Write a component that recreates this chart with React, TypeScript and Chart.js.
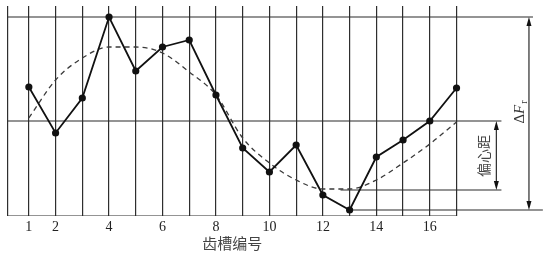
import React, { useEffect, useRef } from "react";
import { Chart, registerables } from "chart.js";

Chart.register(...registerables);

// ---- data ----
const teeth = [1, 2, 3, 4, 5, 6, 7, 8, 9, 10, 11, 12, 13, 14, 15, 16, 17];
const measured = [129, 83, 118, 199, 145, 169, 176, 121, 68, 44, 71, 21, 6, 59, 76, 95, 128];
const eccentricCurve = [98, 136, 158, 169, 169, 163, 144, 121, 78, 53, 36, 27, 27, 36, 53, 72, 94];
const tickLabels = ["1", "2", "", "4", "", "6", "", "8", "", "10", "", "12", "", "14", "", "16", ""];
const xTitle = "齿槽编号";
const labelRunout = ["Δ", "F", "r"];
const labelEccentric = "偏心距";

// frame / reference levels (in chart units)
const X_MIN = 0.22;
const X_MAX = 20.31;
const Y_MIN = 0;
const Y_MAX = 210;
const levelTop = 199;
const levelMid = 95;
const levelEccMin = 26;
const levelMeasMin = 6;

export default function App() {
  const ref = useRef<HTMLCanvasElement | null>(null);

  useEffect(() => {
    document.body.style.margin = "0";
    const canvas = ref.current;
    if (!canvas) return;

    const line = (pts: { x: number; y: number }[]) => ({
      type: "scatter" as const,
      data: pts,
      showLine: true,
      borderColor: "#2a2a2a",
      borderWidth: 1.2,
      pointRadius: 0,
      order: 3,
    });

    const annot = {
      id: "annot",
      afterDatasetsDraw(chart: any) {
        const ctx = chart.ctx as CanvasRenderingContext2D;
        const xs = chart.scales.x;
        const ys = chart.scales.y;
        const px = (v: number) => xs.getPixelForValue(v);
        const py = (v: number) => ys.getPixelForValue(v);

        const arrow = (xv: number, y1: number, y2: number) => {
          const x = px(xv);
          const a = py(y1);
          const b = py(y2);
          ctx.save();
          ctx.strokeStyle = "#2a2a2a";
          ctx.fillStyle = "#111";
          ctx.lineWidth = 1.2;
          ctx.beginPath();
          ctx.moveTo(x, a + 4);
          ctx.lineTo(x, b - 4);
          ctx.stroke();
          ctx.beginPath();
          ctx.moveTo(x, a);
          ctx.lineTo(x - 2.5, a + 9);
          ctx.lineTo(x + 2.5, a + 9);
          ctx.closePath();
          ctx.fill();
          ctx.beginPath();
          ctx.moveTo(x, b);
          ctx.lineTo(x - 2.5, b - 9);
          ctx.lineTo(x + 2.5, b - 9);
          ctx.closePath();
          ctx.fill();
          ctx.restore();
        };

        arrow(19.71, levelTop, levelMeasMin);
        arrow(18.49, levelMid, levelEccMin);

        // ΔFr rotated label
        ctx.save();
        ctx.translate(px(19.36), py(104));
        ctx.rotate(-Math.PI / 2);
        ctx.fillStyle = "#333";
        ctx.textBaseline = "middle";
        ctx.font = '15px "Liberation Serif"';
        const w1 = ctx.measureText(labelRunout[0]).width;
        ctx.font = 'italic 15px "Liberation Serif"';
        const w2 = ctx.measureText(labelRunout[1]).width;
        ctx.font = '10px "Liberation Serif"';
        const w3 = ctx.measureText(labelRunout[2]).width;
        let sx = -(w1 + w2 + w3 + 1) / 2;
        ctx.font = '15px "Liberation Serif"';
        ctx.textAlign = "left";
        ctx.fillText(labelRunout[0], sx, 0);
        sx += w1;
        ctx.font = 'italic 15px "Liberation Serif"';
        ctx.fillText(labelRunout[1], sx, 0);
        sx += w2 + 1;
        ctx.font = '10px "Liberation Serif"';
        ctx.fillText(labelRunout[2], sx, 5);
        ctx.restore();

        // 偏心距 rotated label
        ctx.save();
        ctx.translate(px(18.0), py(60));
        ctx.rotate(-Math.PI / 2);
        ctx.fillStyle = "#444";
        ctx.textAlign = "center";
        ctx.textBaseline = "middle";
        ctx.font = '14px "Noto Sans CJK SC"';
        ctx.fillText(labelEccentric, 0, 0);
        ctx.restore();

        // x title
        ctx.save();
        ctx.fillStyle = "#444";
        ctx.textAlign = "center";
        ctx.textBaseline = "middle";
        ctx.font = '15px "Noto Sans CJK SC"';
        ctx.fillText(xTitle, px((X_MIN + 17) / 2), py(Y_MIN) + 27);
        ctx.restore();
      },
    };

    const chart = new Chart(canvas, {
      type: "scatter",
      data: {
        datasets: [
          {
            data: teeth.map((t, i) => ({ x: t, y: measured[i] })),
            showLine: true,
            borderColor: "#111",
            backgroundColor: "#111",
            borderWidth: 1.8,
            pointRadius: 3.6,
            pointBorderWidth: 0,
            order: 0,
          } as any,
          {
            data: teeth.map((t, i) => ({ x: t, y: eccentricCurve[i] })),
            showLine: true,
            borderColor: "#3a3a3a",
            borderWidth: 1.3,
            borderDash: [5, 4],
            pointRadius: 0,
            cubicInterpolationMode: "monotone",
            order: 1,
          } as any,
          line([{ x: X_MIN, y: 0 }, { x: 17, y: 0 }]),
          line([{ x: X_MIN, y: levelTop }, { x: 19.86, y: levelTop }]),
          line([{ x: X_MIN, y: levelMid }, { x: 18.68, y: levelMid }]),
          line([{ x: 12.66, y: levelEccMin }, { x: 18.68, y: levelEccMin }]),
          line([{ x: 13, y: levelMeasMin }, { x: 20.23, y: levelMeasMin }]),
        ],
      },
      options: {
        animation: false,
        responsive: false,
        events: [],
        layout: { padding: { top: 6, left: 8, right: 0, bottom: 0 } },
        plugins: { legend: { display: false }, tooltip: { enabled: false } },
        scales: {
          x: {
            type: "linear",
            min: X_MIN,
            max: X_MAX,
            afterBuildTicks: (scale: any) => {
              scale.ticks = [X_MIN, ...teeth].map((v) => ({ value: v }));
            },
            afterFit: (scale: any) => {
              scale.height = 39;
            },
            grid: { color: "#2e2e2e", lineWidth: 1.2, drawTicks: false },
            border: { display: false },
            ticks: {
              autoSkip: false,
              maxRotation: 0,
              padding: 3,
              color: "#222",
              font: { family: "Liberation Serif", size: 14 },
              callback: (v: any) => {
                const i = teeth.indexOf(Number(v));
                return i >= 0 ? tickLabels[i] : "";
              },
            },
          },
          y: {
            display: false,
            min: Y_MIN,
            max: Y_MAX,
          },
        },
      },
      plugins: [annot],
    });

    return () => chart.destroy();
  }, []);

  return <canvas ref={ref} width={549} height={255} style={{ display: "block" }} />;
}
